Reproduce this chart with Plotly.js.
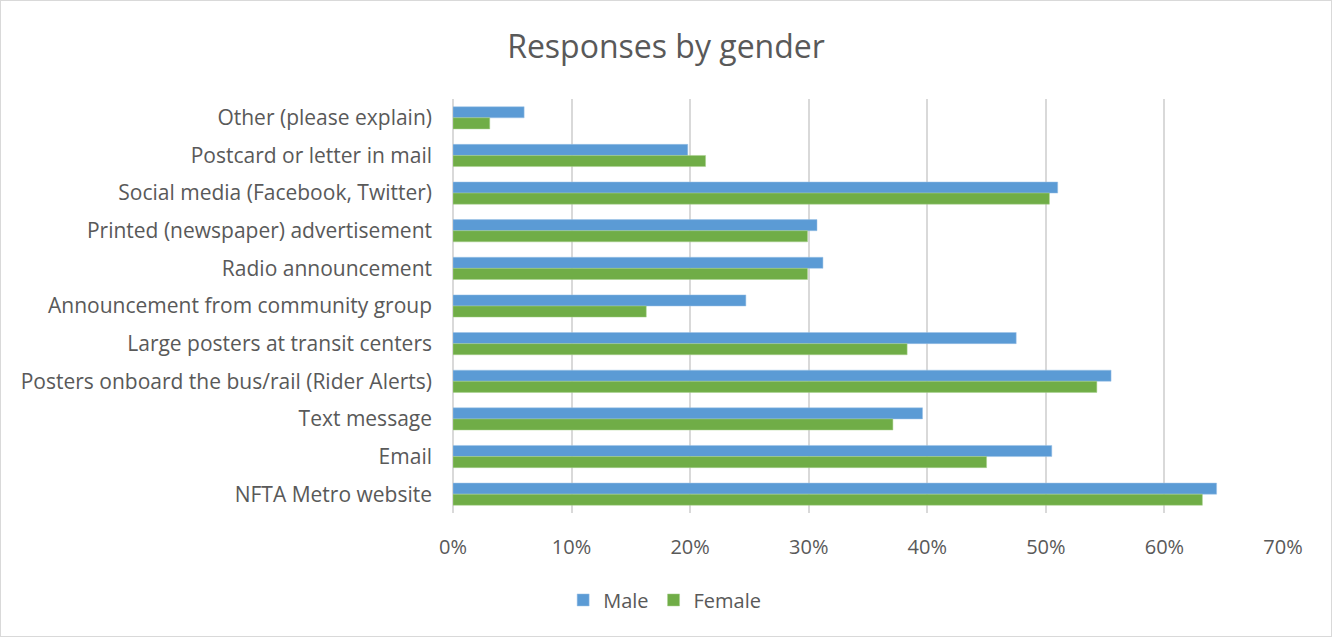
<!DOCTYPE html>
<html><head><meta charset="utf-8">
<script src="https://cdn.plot.ly/plotly-3.0.1.min.js"></script>
<style>html,body{margin:0;padding:0;background:#fff;}#chart{width:1330px;height:635px;border:1px solid #d9d9d9;}</style>
</head><body><div id="chart"></div>
<script>
const categories = [
  "Other (please explain)",
  "Postcard or letter in mail",
  "Social media (Facebook, Twitter)",
  "Printed (newspaper) advertisement",
  "Radio announcement",
  "Announcement from community group",
  "Large posters at transit centers",
  "Posters onboard the bus/rail (Rider Alerts)",
  "Text message",
  "Email",
  "NFTA Metro website"
];
const maleValues   = [0.060, 0.198, 0.510, 0.307, 0.312, 0.247, 0.475, 0.555, 0.396, 0.505, 0.644];
const femaleValues = [0.031, 0.213, 0.503, 0.299, 0.299, 0.163, 0.383, 0.543, 0.371, 0.450, 0.632];
const tickValues = [0, 0.1, 0.2, 0.3, 0.4, 0.5, 0.6, 0.7];
const tickLabels = ["0%", "10%", "20%", "30%", "40%", "50%", "60%", "70%"];

const font = "'Open Sans', 'Noto Sans', sans-serif";
const traces = [
  {type:'bar', orientation:'h', name:'Male', y:categories, x:maleValues,
   marker:{color:'#5B9BD5', line:{color:'#9DC3E6', width:0.5}}},
  {type:'bar', orientation:'h', name:'Female', y:categories, x:femaleValues,
   marker:{color:'#70AD47', line:{color:'#A9D18E', width:0.5}}}
];
const layout = {
  width:1330, height:635,
  margin:{l:452, r:48, t:98, b:123, autoexpand:false},
  paper_bgcolor:'#fff', plot_bgcolor:'#fff',
  barmode:'group', bargap:0.41, bargroupgap:0,
  title:{text:'Responses by gender', x:0.5, xanchor:'center', y:0.928, yanchor:'middle',
         font:{family:font, size:32, color:'#595959'}},
  xaxis:{range:[0,0.7], tickvals:tickValues, ticktext:tickLabels, showgrid:true, tickangle:0,
         gridcolor:'#d9d9d9', gridwidth:2, zeroline:true, zerolinecolor:'#d9d9d9', zerolinewidth:2,
         showline:false, ticks:'', ticklabelstandoff:20,
         tickfont:{family:font, size:20, color:'#595959'}, fixedrange:true},
  yaxis:{type:'category', autorange:'reversed', showgrid:false, zeroline:false, showline:false,
         ticks:'', ticklabelstandoff:20,
         tickfont:{family:font, size:21, color:'#595959'}},
  legend:{orientation:'h', x:0.255, xanchor:'center', y:-0.21, yanchor:'middle',
          font:{family:font, size:20, color:'#595959'}, itemwidth:30, traceorder:'normal'},
  showlegend:true
};
Plotly.newPlot('chart', traces, layout, {displayModeBar:false, staticPlot:true});
</script></body></html>
